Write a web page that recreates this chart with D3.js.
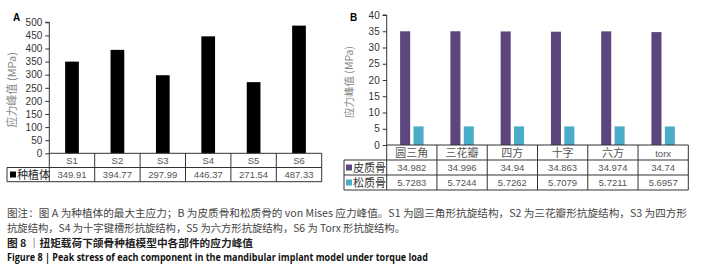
<!DOCTYPE html>
<html>
<head>
<meta charset="utf-8">
<script src="https://cdn.jsdelivr.net/npm/d3@7"></script>
<style>
  body { margin: 0; background: #fff; }
  svg { display: block; }
</style>
</head>
<body>
<div id="chart"></div>
<script>
// data
const catsA = ["S1", "S2", "S3", "S4", "S5", "S6"]
const implantVals = [349.91, 394.77, 297.99, 446.37, 271.54, 487.33]
const ticksA = [0, 50, 100, 150, 200, 250, 300, 350, 400, 450, 500]

const catsB = ["圆三角", "三花瓣", "四方", "十字", "六方", "torx"]
const seriesB = ["皮质骨", "松质骨"]
const corticalVals = [34.982, 34.996, 34.94, 34.863, 34.974, 34.74]
const cancellousVals = [5.7283, 5.7244, 5.7262, 5.7079, 5.7211, 5.6957]
const ticksB = [0, 5, 10, 15, 20, 25, 30, 35, 40]

const captionLines = [
  "图注：图 A 为种植体的最大主应力；B 为皮质骨和松质骨的 von Mises 应力峰值。S1 为圆三角形抗旋结构，S2 为三花瓣形抗旋结构，S3 为四方形",
  "抗旋结构，S4 为十字键槽形抗旋结构，S5 为六方形抗旋结构，S6 为 Torx 形抗旋结构。"
]
const titleCn = "图 8 ｜扭矩载荷下颌骨种植模型中各部件的应力峰值"
const titleEn = "Figure 8  |  Peak stress of each component in the mandibular implant model under torque load"

const width = 702
const height = 271
const cjk = "'Noto Sans CJK SC', sans-serif"
const num = "'Liberation Sans', Arial, sans-serif"
const lineCol = "#333"

const svg = d3.select("#chart")
  .append("svg")
  .attr("width", width)
  .attr("height", height)

// ---------- panel A ----------
const A = { left: 49.3, right: 321.7, top: 22.3, bottom: 153.3, row: 14.2, legLeft: 7 }

const xA = d3.scaleBand().domain(catsA).range([A.left, A.right])
const yA = d3.scaleLinear().domain([0, 500]).range([A.bottom, A.top])
const innerA = d3.scaleBand().domain(["v"]).range([0, xA.bandwidth()]).padding(0.536)

const gA = svg.append("g")

gA.append("g")
  .attr("transform", `translate(${A.left},0)`)
  .call(d3.axisLeft(yA).tickValues(ticksA).tickSize(4).tickPadding(3))
  .call(g => g.select(".domain").attr("stroke", lineCol).attr("d", `M-4,${A.top}H0V${A.bottom}`))
  .call(g => g.selectAll(".tick line").attr("stroke", lineCol))
  .call(g => g.selectAll(".tick text").attr("font-family", num).attr("font-size", 10).attr("fill", "#333"))

gA.selectAll("rect.bar")
  .data(implantVals)
  .join("rect")
  .attr("class", "bar")
  .attr("x", (d, i) => xA(catsA[i]) + innerA("v"))
  .attr("width", innerA.bandwidth())
  .attr("y", d => yA(d))
  .attr("height", d => yA(0) - yA(d))
  .attr("fill", "#000")

// table under A
const tA = gA.append("g").attr("stroke", lineCol).attr("stroke-width", 1).attr("fill", "none")
const r1A = A.bottom + A.row
const r2A = r1A + A.row
tA.append("path").attr("d",
  `M${A.left},${A.bottom}H${A.right}` +
  `M${A.legLeft},${r1A}H${A.right}` +
  `M${A.legLeft},${r2A}H${A.right}` +
  `M${A.legLeft},${r1A}V${r2A}`)
tA.selectAll("line")
  .data(catsA.concat(["end"]))
  .join("line")
  .attr("x1", (d, i) => i < catsA.length ? xA(d) : A.right)
  .attr("x2", (d, i) => i < catsA.length ? xA(d) : A.right)
  .attr("y1", A.bottom).attr("y2", r2A)

gA.selectAll("text.cat")
  .data(catsA)
  .join("text")
  .attr("class", "cat")
  .attr("x", d => xA(d) + xA.bandwidth() / 2)
  .attr("y", A.bottom + A.row / 2 + 3.5)
  .attr("text-anchor", "middle")
  .attr("font-family", num).attr("font-size", 9.5).attr("fill", "#555")
  .text(d => d)

gA.selectAll("text.val")
  .data(implantVals)
  .join("text")
  .attr("class", "val")
  .attr("x", (d, i) => xA(catsA[i]) + xA.bandwidth() / 2)
  .attr("y", r1A + A.row / 2 + 3.5)
  .attr("text-anchor", "middle")
  .attr("font-family", num).attr("font-size", 9.5).attr("fill", "#555")
  .text(d => d.toFixed(2))

gA.append("rect").attr("x", 10).attr("y", r1A + 4).attr("width", 6).attr("height", 6).attr("fill", "#000")
gA.append("text")
  .attr("x", 17).attr("y", r1A + A.row / 2 + 4)
  .attr("font-family", cjk).attr("font-size", 11).attr("fill", "#222")
  .text("种植体")

gA.append("text")
  .attr("x", 13).attr("y", 21)
  .attr("font-family", num).attr("font-size", 10).attr("font-weight", "bold")
  .text("A")

gA.append("text")
  .attr("transform", `translate(16,${(A.top + A.bottom) / 2 + 2}) rotate(-90)`)
  .attr("text-anchor", "middle")
  .attr("font-family", cjk).attr("font-size", 11).attr("fill", "#888")
  .text("应力峰值 (MPa)")

// ---------- panel B ----------
const B = { left: 386.7, right: 688.3, top: 15, bottom: 145, row: 15, legLeft: 344 }
const colB = { "皮质骨": "#5d467e", "松质骨": "#4aacc6" }
const valsB = { "皮质骨": corticalVals, "松质骨": cancellousVals }

const xB = d3.scaleBand().domain(catsB).range([B.left, B.right])
const yB = d3.scaleLinear().domain([0, 40]).range([B.bottom, B.top])
const innerB = d3.scaleBand().domain(seriesB).range([0, xB.bandwidth()])
  .paddingInner(0.25).paddingOuter(1.0)

const gB = svg.append("g")

gB.append("g")
  .attr("transform", `translate(${B.left},0)`)
  .call(d3.axisLeft(yB).tickValues(ticksB).tickSize(4).tickPadding(3))
  .call(g => g.select(".domain").attr("stroke", lineCol).attr("d", `M-4,${B.top}H0V${B.bottom}`))
  .call(g => g.selectAll(".tick line").attr("stroke", lineCol))
  .call(g => g.selectAll(".tick text").attr("font-family", num).attr("font-size", 10).attr("fill", "#333"))

seriesB.forEach(s => {
  gB.selectAll(`rect.b${s}`)
    .data(valsB[s])
    .join("rect")
    .attr("x", (d, i) => xB(catsB[i]) + innerB(s))
    .attr("width", innerB.bandwidth())
    .attr("y", d => yB(d))
    .attr("height", d => yB(0) - yB(d))
    .attr("fill", colB[s])
})

// table under B
const r1B = B.bottom + B.row
const r2B = r1B + B.row
const r3B = r2B + B.row
const tB = gB.append("g").attr("stroke", lineCol).attr("stroke-width", 1).attr("fill", "none")
tB.append("path").attr("d",
  `M${B.left},${B.bottom}H${B.right}` +
  `M${B.legLeft},${r1B}H${B.right}` +
  `M${B.legLeft},${r2B}H${B.right}` +
  `M${B.legLeft},${r3B}H${B.right}` +
  `M${B.legLeft},${r1B}V${r3B}`)
tB.selectAll("line")
  .data(catsB.concat(["end"]))
  .join("line")
  .attr("x1", (d, i) => i < catsB.length ? xB(d) : B.right)
  .attr("x2", (d, i) => i < catsB.length ? xB(d) : B.right)
  .attr("y1", B.bottom).attr("y2", r3B)

gB.selectAll("text.cat")
  .data(catsB)
  .join("text")
  .attr("class", "cat")
  .attr("x", d => xB(d) + xB.bandwidth() / 2)
  .attr("y", B.bottom + B.row / 2 + 4)
  .attr("text-anchor", "middle")
  .attr("font-family", d => d === "torx" ? num : cjk)
  .attr("font-size", d => d === "torx" ? 9.5 : 11)
  .attr("fill", "#555")
  .text(d => d)

seriesB.forEach((s, si) => {
  const ry = r1B + si * B.row
  gB.selectAll(`text.v${si}`)
    .data(valsB[s])
    .join("text")
    .attr("x", (d, i) => xB(catsB[i]) + xB.bandwidth() / 2)
    .attr("y", ry + B.row / 2 + 3.5)
    .attr("text-anchor", "middle")
    .attr("font-family", num).attr("font-size", 9.5).attr("fill", "#555")
    .text(d => d)
  gB.append("rect").attr("x", 346).attr("y", ry + 4.5).attr("width", 6).attr("height", 6).attr("fill", colB[s])
  gB.append("text")
    .attr("x", 353).attr("y", ry + B.row / 2 + 4)
    .attr("font-family", cjk).attr("font-size", 11).attr("fill", "#333")
    .text(s)
})

gB.append("text")
  .attr("x", 350).attr("y", 21)
  .attr("font-family", num).attr("font-size", 10).attr("font-weight", "bold")
  .text("B")

gB.append("text")
  .attr("transform", `translate(353,${(B.top + B.bottom) / 2 + 2}) rotate(-90)`)
  .attr("text-anchor", "middle")
  .attr("font-family", cjk).attr("font-size", 10.5).attr("fill", "#888")
  .text("应力峰值 (MPa)")

// ---------- caption ----------
const cap = svg.append("g")
cap.append("text").attr("x", 7).attr("y", 216.5)
  .attr("font-family", cjk).attr("font-size", 10).attr("fill", "#444")
  .attr("textLength", 680).attr("lengthAdjust", "spacingAndGlyphs")
  .text(captionLines[0])
cap.append("text").attr("x", 7).attr("y", 231.5)
  .attr("font-family", cjk).attr("font-size", 10).attr("fill", "#444")
  .attr("textLength", 398).attr("lengthAdjust", "spacingAndGlyphs")
  .text(captionLines[1])
cap.append("text").attr("x", 7).attr("y", 247)
  .attr("font-family", cjk).attr("font-size", 10).attr("font-weight", "bold").attr("fill", "#222")
  .attr("textLength", 246).attr("lengthAdjust", "spacingAndGlyphs")
  .text(titleCn)
cap.append("text").attr("x", 7).attr("y", 261)
  .attr("font-family", "'Open Sans', sans-serif").attr("font-size", 10).attr("font-weight", "bold").attr("fill", "#111")
  .attr("textLength", 421).attr("lengthAdjust", "spacingAndGlyphs")
  .text(titleEn)
</script>
</body>
</html>
